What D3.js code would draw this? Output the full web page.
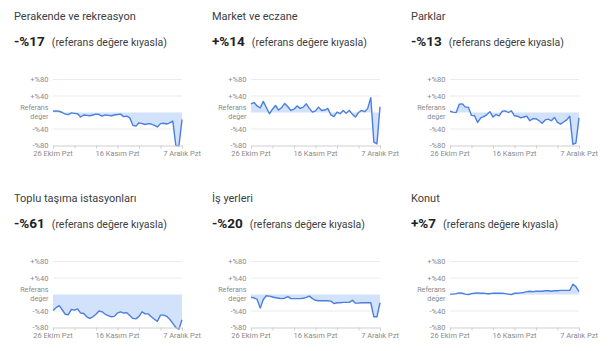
<!DOCTYPE html>
<html>
<head>
<meta charset="utf-8">
<script src="https://cdn.jsdelivr.net/npm/d3@7"></script>
<style>
  body { margin: 0; background: #fff; font-family: Roboto, "Noto Sans", sans-serif; }
</style>
</head>
<body>
<div id="chart"></div>
<script>
// -- data ---------------------------------------------------------------
const startDate = new Date(2020, 9, 26);   // 26 Ekim 2020, Pazartesi

const categories = [
  'Perakende ve rekreasyon', 'Market ve eczane', 'Parklar',
  'Toplu taşıma istasyonları', 'İş yerleri', 'Konut'
];
const changeLabels = ['-%17', '+%14', '-%13', '-%61', '-%20', '+%7'];
const subtitle = '(referans değere kıyasla)';

const retail = [3, 4, 3, 0, -4, -5, -1, -2, -3, -11, -6, -7, -8, -6, -4, -5, -9, -6, -7, -8, -6,
  -5, -4, -10, -9, -13, -31, -33, -25, -27, -29, -27, -28, -31, -35, -27, -26, -28, -25, -21, -80, -81, -17];
const grocery = [21, 24, 16, 11, 27, 12, -3, 8, 17, 6, 12, 22, 14, 5, 8, 16, 10, 13, 21, 10, 1,
  4, 13, 5, 6, 10, -6, -10, 1, -3, 5, -2, 5, -4, -11, 0, 5, 2, 10, 36, -72, -76, 14];
const parks = [3, 1, 0, 20, 21, 13, 13, -7, -8, -24, -13, -10, -5, 2, -11, -5, -8, 3, 4, 0, 4,
  -8, -9, -13, -11, -9, -20, -15, -15, -20, -26, -18, -16, -20, -12, -24, -28, -23, -18, -9, -77, -74, -13];
const transit = [-39, -32, -27, -37, -48, -49, -36, -38, -35, -45, -46, -54, -58, -54, -48, -40, -42, -48, -51, -54, -53,
  -45, -42, -45, -44, -51, -58, -59, -53, -42, -47, -47, -54, -60, -65, -50, -50, -53, -60, -70, -80, -84, -61];
const workplaces = [-7, -8, -12, -33, -12, -3, -4, -6, -8, -9, -10, -9, -5, -10, -10, -10, -10, -9, -7, -4, -10,
  -14, -15, -15, -15, -15, -16, -22, -20, -20, -19, -19, -19, -14, -21, -21, -20, -20, -20, -20, -54, -54, -20];
const residential = [1, 1, 2, 4, 3, 1, 0, 2, 3, 4, 3, 3, 2, 2, 3, 3, 3, 3, 2, 1, 0,
  3, 3, 4, 5, 7, 8, 7, 8, 8, 8, 9, 9, 8, 9, 9, 10, 10, 10, 10, 25, 19, 7];

const seriesList = [retail, grocery, parks, transit, workplaces, residential];

const yTicks = [80, 40, 0, -40, -80];
const yTickLabels = ['+%80', '+%40', 'Referans|değer', '-%40', '-%80'];
const xLabelDays = [0, 21, 42];
const xLabelTexts = ['26 Ekim Pzt', '16 Kasım Pzt', '7 Aralık Pzt'];

// -- layout -------------------------------------------------------------
const width = 614, height = 351;
const colLeft = [53, 251, 450];
const rowTop  = [79.5, 261.5];
const plotW = 129, plotH = 66;

const day = i => d3.timeDay.offset(startDate, i);

const x = d3.scaleTime()
  .domain([startDate, day(42)])
  .range([0, plotW]);
const y = d3.scaleLinear()
  .domain([-80, 80])
  .range([plotH, 0]);

const svg = d3.select('#chart').append('svg')
  .attr('width', width)
  .attr('height', height)
  .style('display', 'block');

const area = d3.area()
  .x((d, i) => x(day(i)))
  .y0(y(0))
  .y1(d => y(d));
const line = d3.line()
  .x((d, i) => x(day(i)))
  .y(d => y(d));

seriesList.forEach((values, k) => {
  const g = svg.append('g')
    .attr('transform', `translate(${colLeft[k % 3]},${rowTop[Math.floor(k / 3)]})`);

  // title + change
  g.append('text')
    .attr('x', -39).attr('y', -60)
    .attr('fill', '#3c4043')
    .style('font-size', '11px')
    .text(categories[k]);
  const big = g.append('text')
    .attr('x', -39).attr('y', -34)
    .attr('fill', '#202124')
    .style('font-size', '13.5px')
    .style('font-weight', 'bold')
    .text(changeLabels[k]);
  const bw = big.node().getComputedTextLength();
  g.append('text')
    .attr('x', -39 + bw + 7).attr('y', -34)
    .attr('fill', '#3c4043')
    .style('font-size', '10.5px')
    .text(subtitle);

  // grid
  g.selectAll('.grid').data(yTicks.filter(t => t !== 0 && t !== -80))
    .join('line')
    .attr('x1', 0).attr('x2', plotW)
    .attr('y1', d => y(d)).attr('y2', d => y(d))
    .attr('stroke', '#ebebeb');

  // y labels ("Referans değer" on two lines round the zero line)
  yTicks.forEach((t, i) => {
    const parts = yTickLabels[i].split('|');
    const dy = parts.length === 1 ? [2.7] : [-2.4, 6.4];
    parts.forEach((p, j) => {
      g.append('text')
        .attr('x', -4.5)
        .attr('y', y(t) + dy[j])
        .attr('text-anchor', 'end')
        .attr('fill', '#8a8a8a')
        .style('font-size', parts.length === 1 ? '7.5px' : '7.2px')
        .text(p);
    });
  });

  // area + line
  g.append('path').datum(values)
    .attr('d', area)
    .attr('fill', '#d3e2fb');
  g.append('path').datum(values)
    .attr('d', line)
    .attr('fill', 'none')
    .attr('stroke', '#4a7fe0')
    .attr('stroke-width', 1.4)
    .attr('stroke-linejoin', 'round');

  // x axis
  const axis = d3.axisBottom(x)
    .tickValues(d3.range(0, 43, 7).map(day))
    .tickSize(3)
    .tickFormat('');
  const ax = g.append('g')
    .attr('transform', `translate(0,${plotH})`)
    .call(axis);
  ax.select('.domain').attr('stroke', '#cfcfcf');
  ax.selectAll('.tick line').attr('stroke', '#cfcfcf');

  xLabelDays.forEach((d, i) => {
    g.append('text')
      .attr('x', x(day(d)))
      .attr('y', plotH + 10.5)
      .attr('text-anchor', 'middle')
      .attr('fill', '#8a8a8a')
      .style('font-size', '7.5px')
      .text(xLabelTexts[i]);
  });
});
</script>
</body>
</html>
